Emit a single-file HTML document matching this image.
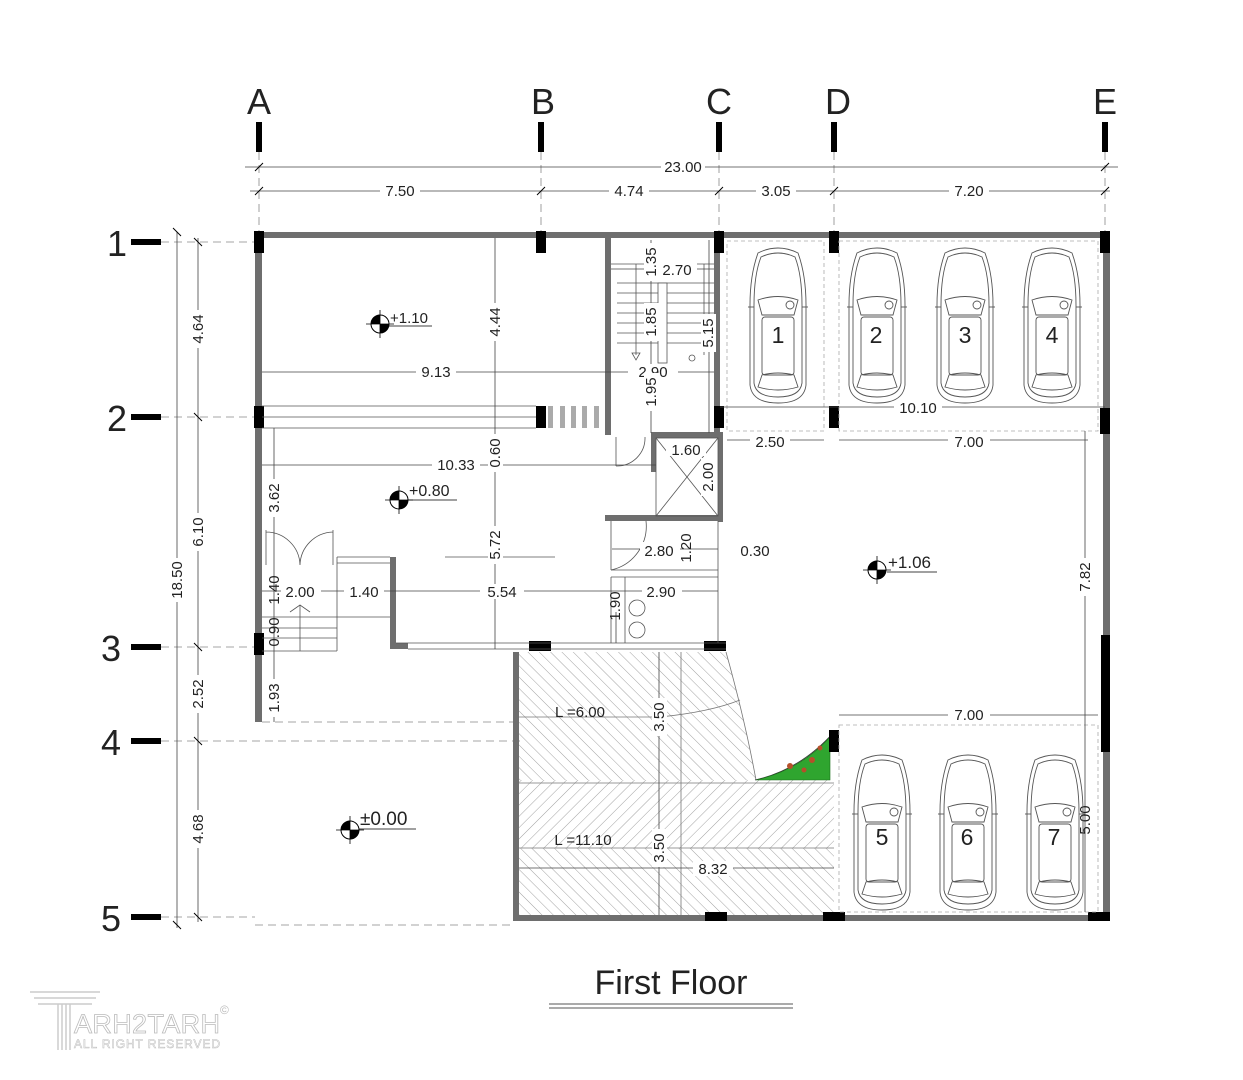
<!DOCTYPE html>
<html><head><meta charset="utf-8"><style>
html,body{margin:0;padding:0;background:#fff}
svg{display:block}
text{font-family:"Liberation Sans",sans-serif;fill:#222}
</style></head><body>
<svg width="1243" height="1080" viewBox="0 0 1243 1080" xmlns="http://www.w3.org/2000/svg">
<defs>
<pattern id="h1" width="8" height="8" patternUnits="userSpaceOnUse" patternTransform="rotate(45)">
<line x1="0" y1="0" x2="0" y2="8" stroke="#8a8a8a" stroke-width="0.8"/></pattern>
<pattern id="h2" width="8" height="8" patternUnits="userSpaceOnUse" patternTransform="rotate(-45)">
<line x1="0" y1="0" x2="0" y2="8" stroke="#8a8a8a" stroke-width="0.8"/></pattern>
<g id="car" fill="none" stroke="#555" stroke-width="0.9">
<path d="M10,8 Q30,-2 50,8 Q58,30 58,60 L58,140 Q56,158 30,158 Q4,158 2,140 L2,60 Q2,30 10,8Z"/>
<path d="M13,12 Q30,4 47,12 Q54,30 54,60 L54,138 Q52,152 30,152 Q8,152 6,138 L6,60 Q6,30 13,12Z"/>
<path d="M10,55 Q30,48 50,55 L46,70 L14,70Z"/>
<rect x="14" y="72" width="32" height="58" rx="3"/>
<path d="M14,130 Q30,126 46,130 L50,142 Q30,148 10,142Z"/>
<line x1="0" y1="62" x2="6" y2="62"/><line x1="54" y1="62" x2="60" y2="62"/>
<circle cx="42" cy="60" r="4"/>
</g>
<g id="ring"><circle r="9" fill="#fff" stroke="#000" stroke-width="1"/>
<path d="M0,0 L9,0 A9,9 0 0 1 0,9Z M0,0 L-9,0 A9,9 0 0 1 0,-9Z" fill="#000"/>
<line x1="-14" y1="0" x2="14" y2="0" stroke="#000" stroke-width="0.8"/><line x1="0" y1="-14" x2="0" y2="14" stroke="#000" stroke-width="0.8"/></g>
</defs>

<g stroke="#888" stroke-width="0.8" stroke-dasharray="8,5">
<line x1="259" y1="152" x2="259" y2="232"/><line x1="541" y1="152" x2="541" y2="232"/>
<line x1="719" y1="152" x2="719" y2="232"/><line x1="834" y1="152" x2="834" y2="232"/>
<line x1="1105" y1="152" x2="1105" y2="232"/>
<line x1="161" y1="242" x2="255" y2="242"/><line x1="161" y1="417" x2="255" y2="417"/>
<line x1="161" y1="647" x2="255" y2="647"/><line x1="161" y1="741" x2="520" y2="741"/>
<line x1="161" y1="917" x2="255" y2="917"/><line x1="255" y1="925" x2="513" y2="925"/>
<line x1="262" y1="722" x2="513" y2="722"/>
</g>
<g font-size="36" text-anchor="middle">
<text x="259" y="114">A</text><text x="543" y="114">B</text><text x="719" y="114">C</text><text x="838" y="114">D</text><text x="1105" y="114">E</text>
<text x="117" y="256">1</text><text x="117" y="431">2</text><text x="111" y="661">3</text><text x="111" y="755">4</text><text x="111" y="931">5</text>
</g>
<g fill="#000">
<rect x="256" y="122" width="6" height="30"/><rect x="538" y="122" width="6" height="30"/><rect x="716" y="122" width="6" height="30"/>
<rect x="831" y="122" width="6" height="30"/><rect x="1102" y="122" width="6" height="30"/>
<rect x="131" y="239" width="30" height="6"/><rect x="131" y="414" width="30" height="6"/><rect x="131" y="644" width="30" height="6"/>
<rect x="131" y="738" width="30" height="6"/><rect x="131" y="914" width="30" height="6"/>
</g>

<g stroke="#444" stroke-width="0.8" fill="none">
<line x1="245" y1="167" x2="1118" y2="167"/><line x1="250" y1="191" x2="1110" y2="191"/>
<line x1="177" y1="232" x2="177" y2="928"/><line x1="198" y1="238" x2="198" y2="922"/>
</g>
<g stroke="#000" stroke-width="1">
<line x1="255" y1="171" x2="263" y2="163"/><line x1="1101" y1="171" x2="1109" y2="163"/>
<line x1="255" y1="195" x2="263" y2="187"/><line x1="537" y1="195" x2="545" y2="187"/><line x1="715" y1="195" x2="723" y2="187"/><line x1="830" y1="195" x2="838" y2="187"/><line x1="1101" y1="195" x2="1109" y2="187"/>
<line x1="173" y1="228" x2="181" y2="236"/><line x1="173" y1="921" x2="181" y2="929"/>
<line x1="194" y1="238" x2="202" y2="246"/><line x1="194" y1="413" x2="202" y2="421"/><line x1="194" y1="643" x2="202" y2="651"/><line x1="194" y1="737" x2="202" y2="745"/><line x1="194" y1="913" x2="202" y2="921"/>
</g>
<g font-size="15" text-anchor="middle">
<rect x="661" y="159" width="44" height="15" fill="#fff"/><text x="683" y="172">23.00</text>
<rect x="380" y="183" width="40" height="15" fill="#fff"/><text x="400" y="196">7.50</text>
<rect x="609" y="183" width="40" height="15" fill="#fff"/><text x="629" y="196">4.74</text>
<rect x="756" y="183" width="40" height="15" fill="#fff"/><text x="776" y="196">3.05</text>
<rect x="949" y="183" width="40" height="15" fill="#fff"/><text x="969" y="196">7.20</text>
</g>
<g font-size="15" text-anchor="middle">
<g transform="translate(182,580) rotate(-90)"><rect x="-22" y="-12" width="44" height="15" fill="#fff"/><text x="0" y="0">18.50</text></g>
<g transform="translate(203,329) rotate(-90)"><rect x="-19" y="-12" width="38" height="15" fill="#fff"/><text x="0" y="0">4.64</text></g>
<g transform="translate(203,532) rotate(-90)"><rect x="-19" y="-12" width="38" height="15" fill="#fff"/><text x="0" y="0">6.10</text></g>
<g transform="translate(203,694) rotate(-90)"><rect x="-19" y="-12" width="38" height="15" fill="#fff"/><text x="0" y="0">2.52</text></g>
<g transform="translate(203,829) rotate(-90)"><rect x="-19" y="-12" width="38" height="15" fill="#fff"/><text x="0" y="0">4.68</text></g>
</g>

<!-- ramp hatch -->
<path d="M519,652 L726,652 Q740,700 756,780 L519,780Z" fill="url(#h2)"/>
<path d="M519,780 L834,780 L834,848 L519,848Z" fill="url(#h1)"/>
<path d="M519,848 L834,848 L834,915 L519,915Z" fill="url(#h2)"/>
<g stroke="#777" stroke-width="0.8" fill="none">
<line x1="519" y1="717" x2="660" y2="717"/><path d="M660,717 Q710,712 740,700"/>
<line x1="519" y1="783" x2="834" y2="783"/><line x1="519" y1="848" x2="834" y2="848"/>
<line x1="681" y1="652" x2="681" y2="915"/>
<path d="M726,652 Q745,720 756,780"/>
<path d="M755,780 Q800,770 834,732" stroke="#333"/>
</g>
<path d="M756,780 Q800,770 830,737 L830,780Z" fill="#2fa52f" stroke="#1b6e1b" stroke-width="0.6"/>
<g fill="#b5502a"><circle cx="790" cy="766" r="3"/><circle cx="812" cy="760" r="3"/><circle cx="820" cy="748" r="2.5"/><circle cx="804" cy="770" r="2.5"/></g>

<g fill="#6e6e6e">
<rect x="255" y="232" width="855" height="6"/>
<rect x="255" y="232" width="7" height="490"/>
<rect x="1103" y="232" width="7" height="688"/>
<rect x="513" y="915" width="597" height="6"/>
<rect x="513" y="652" width="6" height="268"/>
<rect x="605" y="238" width="6" height="197"/>
<rect x="714" y="238" width="6" height="195"/>
<rect x="651" y="432" width="72" height="6"/>
<rect x="651" y="432" width="5" height="40"/>
<rect x="718" y="432" width="5" height="90"/>
<rect x="605" y="515" width="118" height="6"/>
<rect x="390" y="557" width="6" height="92"/>
<rect x="390" y="643" width="18" height="6"/>
</g>
<g fill="#000">
<rect x="254" y="231" width="10" height="22"/><rect x="536" y="231" width="10" height="22"/><rect x="714" y="231" width="10" height="22"/>
<rect x="829" y="231" width="10" height="22"/><rect x="1100" y="231" width="10" height="22"/>
<rect x="254" y="406" width="10" height="22"/><rect x="536" y="406" width="10" height="22"/><rect x="714" y="406" width="10" height="22"/>
<rect x="829" y="406" width="10" height="22"/><rect x="1100" y="408" width="10" height="26"/>
<rect x="254" y="633" width="10" height="22"/><rect x="529" y="641" width="22" height="10"/><rect x="704" y="641" width="22" height="10"/>
<rect x="829" y="730" width="10" height="22"/><rect x="1101" y="635" width="9" height="117"/>
<rect x="705" y="912" width="22" height="9"/><rect x="823" y="912" width="22" height="9"/><rect x="1088" y="912" width="22" height="9"/>
</g>
<g fill="#aaa"><rect x="548" y="406" width="5" height="22"/><rect x="560" y="406" width="5" height="22"/><rect x="571" y="406" width="5" height="22"/><rect x="582" y="406" width="5" height="22"/><rect x="594" y="406" width="5" height="22"/></g>

<g stroke="#555" stroke-width="0.8" fill="none">
<line x1="262" y1="406" x2="536" y2="406"/><line x1="262" y1="417" x2="536" y2="417"/><line x1="262" y1="428" x2="536" y2="428"/>
<line x1="396" y1="643" x2="726" y2="643"/><line x1="408" y1="649" x2="726" y2="649"/>
<line x1="337" y1="557" x2="390" y2="557"/><line x1="337" y1="563" x2="390" y2="563"/>
<line x1="262" y1="617" x2="390" y2="617"/><line x1="262" y1="628" x2="337" y2="628"/><line x1="262" y1="638" x2="337" y2="638"/><line x1="262" y1="651" x2="337" y2="651"/>
<line x1="337" y1="557" x2="337" y2="651"/><line x1="300" y1="605" x2="300" y2="651"/><path d="M290,612 L300,605 L310,612"/>
<path d="M266,530 L266,565 M266,532 A34,34 0 0 1 300,565 M333,530 L333,565 M333,532 A34,34 0 0 0 300,565"/>
<line x1="445" y1="557" x2="555" y2="557"/>
<line x1="611" y1="264" x2="714" y2="264"/>
<g><line x1="617" y1="283" x2="714" y2="283"/><line x1="617" y1="293" x2="714" y2="293"/><line x1="617" y1="303" x2="714" y2="303"/><line x1="617" y1="313" x2="714" y2="313"/><line x1="617" y1="323" x2="714" y2="323"/><line x1="617" y1="333" x2="714" y2="333"/><line x1="617" y1="343" x2="714" y2="343"/></g>
<rect x="658" y="283" width="9" height="80" fill="#fff"/>
<line x1="636" y1="264" x2="636" y2="355"/><path d="M632,353 L636,360 L640,353Z"/>
<line x1="704" y1="264" x2="704" y2="355"/><circle cx="692" cy="358" r="3"/>
<path d="M616,437 L616,466 M616,466 A28,28 0 0 0 645,437"/>
<rect x="656" y="438" width="62" height="78"/><line x1="656" y1="438" x2="718" y2="516"/><line x1="718" y1="438" x2="656" y2="516"/>
<path d="M611,521 L611,570 M611,570 A45,45 0 0 0 646,521" />
<line x1="611" y1="570" x2="718" y2="570"/><line x1="611" y1="577" x2="718" y2="577"/>
<line x1="718" y1="521" x2="718" y2="643"/><line x1="611" y1="577" x2="611" y2="643"/><line x1="625" y1="577" x2="625" y2="643"/>
<circle cx="637" cy="608" r="8"/><circle cx="637" cy="630" r="8"/>
<g stroke="#aaa" stroke-dasharray="4,3"><rect x="727" y="241" width="97" height="190"/><rect x="839" y="241" width="259" height="190"/><rect x="839" y="725" width="259" height="187"/></g>
</g>

<g stroke="#444" stroke-width="0.8" fill="none">
<line x1="262" y1="372" x2="714" y2="372"/>
<line x1="262" y1="465" x2="656" y2="465"/>
<line x1="495" y1="238" x2="495" y2="649"/>
<line x1="274" y1="428" x2="274" y2="722"/>
<line x1="262" y1="591" x2="611" y2="591"/><line x1="611" y1="591" x2="718" y2="591"/>
<line x1="612" y1="549" x2="718" y2="549"/>
<line x1="651" y1="240" x2="651" y2="433"/><line x1="709" y1="240" x2="709" y2="433"/>
<line x1="611" y1="269" x2="714" y2="269"/>
<line x1="727" y1="440" x2="824" y2="440"/><line x1="839" y1="440" x2="1088" y2="440"/>
<line x1="720" y1="407" x2="1105" y2="407"/>
<line x1="1085" y1="431" x2="1085" y2="912"/>
<line x1="839" y1="715" x2="1098" y2="715"/>
<line x1="519" y1="868" x2="834" y2="868"/>
<line x1="659" y1="652" x2="659" y2="915"/>
<line x1="616" y1="612" x2="616" y2="643"/>
</g>
<g font-size="15" text-anchor="middle">
<rect x="416" y="364" width="40" height="15" fill="#fff"/><text x="436" y="377">9.13</text>
<rect x="628" y="364" width="50" height="15" fill="#fff"/><text x="653" y="377">2.90</text>
<rect x="432" y="457" width="48" height="15" fill="#fff"/><text x="456" y="470">10.33</text>
<rect x="480" y="584" width="44" height="15" fill="#fff"/><text x="502" y="597">5.54</text>
<rect x="281" y="584" width="40" height="15" fill="#fff"/><text x="300" y="597">2.00</text>
<rect x="344" y="584" width="40" height="15" fill="#fff"/><text x="364" y="597">1.40</text>
<rect x="642" y="584" width="40" height="15" fill="#fff"/><text x="661" y="597">2.90</text>
<rect x="640" y="542" width="40" height="15" fill="#fff"/><text x="659" y="556">2.80</text>
<text x="755" y="556">0.30</text>
<rect x="666" y="441" width="40" height="15" fill="#fff"/><text x="686" y="455">1.60</text>
<rect x="657" y="262" width="40" height="15" fill="#fff"/><text x="677" y="275">2.70</text>
<rect x="750" y="433" width="40" height="15" fill="#fff"/><text x="770" y="447">2.50</text>
<rect x="948" y="433" width="42" height="15" fill="#fff"/><text x="969" y="447">7.00</text>
<rect x="894" y="400" width="48" height="15" fill="#fff"/><text x="918" y="413">10.10</text>
<rect x="948" y="707" width="42" height="15" fill="#fff"/><text x="969" y="720">7.00</text>
<rect x="693" y="861" width="40" height="15" fill="#fff"/><text x="713" y="874">8.32</text>
<text x="580" y="717">L =6.00</text><text x="583" y="845">L =11.10</text>
</g>
<g font-size="15" text-anchor="middle">
<g transform="translate(500,322) rotate(-90)"><rect x="-19" y="-12" width="38" height="15" fill="#fff"/><text x="0" y="0">4.44</text></g>
<g transform="translate(500,453) rotate(-90)"><rect x="-19" y="-12" width="38" height="15" fill="#fff"/><text x="0" y="0">0.60</text></g>
<g transform="translate(500,545) rotate(-90)"><rect x="-19" y="-12" width="38" height="15" fill="#fff"/><text x="0" y="0">5.72</text></g>
<g transform="translate(279,498) rotate(-90)"><rect x="-19" y="-12" width="38" height="15" fill="#fff"/><text x="0" y="0">3.62</text></g>
<g transform="translate(279,590) rotate(-90)"><text x="0" y="0">1.40</text></g>
<g transform="translate(279,632) rotate(-90)"><text x="0" y="0">0.90</text></g>
<g transform="translate(279,698) rotate(-90)"><rect x="-19" y="-12" width="38" height="15" fill="#fff"/><text x="0" y="0">1.93</text></g>
<g transform="translate(656,262) rotate(-90)"><rect x="-19" y="-12" width="38" height="15" fill="#fff"/><text x="0" y="0">1.35</text></g>
<g transform="translate(656,322) rotate(-90)"><rect x="-19" y="-12" width="38" height="15" fill="#fff"/><text x="0" y="0">1.85</text></g>
<g transform="translate(656,392) rotate(-90)"><rect x="-19" y="-12" width="38" height="15" fill="#fff"/><text x="0" y="0">1.95</text></g>
<g transform="translate(713,333) rotate(-90)"><rect x="-19" y="-12" width="38" height="15" fill="#fff"/><text x="0" y="0">5.15</text></g>
<g transform="translate(713,477) rotate(-90)"><rect x="-19" y="-12" width="38" height="15" fill="#fff"/><text x="0" y="0">2.00</text></g>
<g transform="translate(691,548) rotate(-90)"><text x="0" y="0">1.20</text></g>
<g transform="translate(620,606) rotate(-90)"><text x="0" y="0">1.90</text></g>
<g transform="translate(1090,577) rotate(-90)"><rect x="-19" y="-12" width="38" height="15" fill="#fff"/><text x="0" y="0">7.82</text></g>
<g transform="translate(1090,820) rotate(-90)"><text x="0" y="0">5.00</text></g>
<g transform="translate(664,717) rotate(-90)"><rect x="-19" y="-12" width="38" height="15" fill="#fff"/><text x="0" y="0">3.50</text></g>
<g transform="translate(664,848) rotate(-90)"><rect x="-19" y="-12" width="38" height="15" fill="#fff"/><text x="0" y="0">3.50</text></g>
</g>

<use href="#ring" x="380" y="324"/><text x="390" y="323" font-size="15">+1.10</text><line x1="389" y1="326" x2="432" y2="326" stroke="#000" stroke-width="0.8"/>
<use href="#ring" x="399" y="500"/><text x="409" y="496" font-size="16">+0.80</text><line x1="408" y1="500" x2="457" y2="500" stroke="#000" stroke-width="0.8"/>
<use href="#ring" x="877" y="570"/><text x="888" y="568" font-size="17">+1.06</text><line x1="887" y1="572" x2="937" y2="572" stroke="#000" stroke-width="0.8"/>
<use href="#ring" x="350" y="830"/><text x="360" y="825" font-size="19">±0.00</text><line x1="359" y1="829" x2="416" y2="829" stroke="#000" stroke-width="0.8"/>

<use href="#car" x="748" y="245"/><use href="#car" x="847" y="245"/><use href="#car" x="935" y="245"/><use href="#car" x="1022" y="245"/>
<use href="#car" x="852" y="752"/><use href="#car" x="938" y="752"/><use href="#car" x="1025" y="752"/>
<g font-size="23" text-anchor="middle">
<text x="778" y="343">1</text><text x="876" y="343">2</text><text x="965" y="343">3</text><text x="1052" y="343">4</text>
<text x="882" y="845">5</text><text x="967" y="845">6</text><text x="1054" y="845">7</text>
</g>

<text x="671" y="994" font-size="34" text-anchor="middle">First Floor</text>
<line x1="549" y1="1004" x2="793" y2="1004" stroke="#777" stroke-width="1.2"/>
<line x1="549" y1="1008" x2="793" y2="1008" stroke="#777" stroke-width="1.2"/>
<g fill="none" stroke="#ccc" stroke-width="1.5">
<line x1="30" y1="992" x2="100" y2="992"/><line x1="34" y1="998" x2="96" y2="998"/><line x1="38" y1="1004" x2="92" y2="1004"/>
<line x1="58" y1="1004" x2="58" y2="1050"/><line x1="62" y1="1004" x2="62" y2="1050"/><line x1="66" y1="1004" x2="66" y2="1050"/><line x1="70" y1="1004" x2="70" y2="1050"/>
</g>
<text x="74" y="1033" font-size="27" textLength="146" style="fill:#fff;stroke:#bbb;stroke-width:0.8">ARH2TARH</text>
<text x="74" y="1048" font-size="12" textLength="146" style="fill:#fff;stroke:#bbb;stroke-width:0.5">ALL RIGHT RESERVED</text>
<text x="220" y="1014" font-size="12" style="fill:#bbb">©</text>
</svg>
</body></html>
